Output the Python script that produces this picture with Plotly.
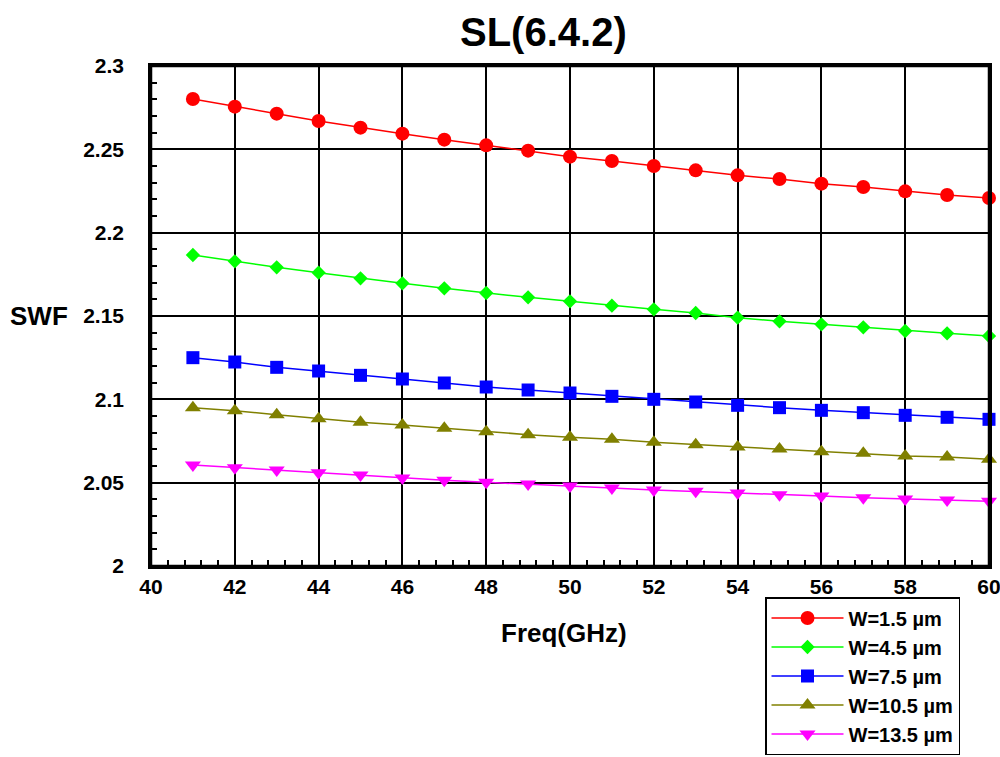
import plotly.graph_objects as go

freq = list(range(41, 61))

w_labels = ["W=1.5 µm", "W=4.5 µm", "W=7.5 µm", "W=10.5 µm", "W=13.5 µm"]

swf_w15 = [2.2802, 2.2756, 2.2714, 2.2670, 2.2630, 2.2594, 2.2558, 2.2524, 2.2492, 2.2456,
           2.2430, 2.2400, 2.2374, 2.2344, 2.2322, 2.2294, 2.2274, 2.2248, 2.2226, 2.2208]
swf_w45 = [2.1866, 2.1828, 2.1792, 2.1760, 2.1726, 2.1696, 2.1666, 2.1638, 2.1612, 2.1588,
           2.1562, 2.1540, 2.1518, 2.1490, 2.1468, 2.1450, 2.1432, 2.1410, 2.1396, 2.1380]
swf_w75 = [2.1250, 2.1224, 2.1192, 2.1170, 2.1144, 2.1122, 2.1098, 2.1074, 2.1056, 2.1038,
           2.1018, 2.1000, 2.0984, 2.0964, 2.0950, 2.0934, 2.0920, 2.0904, 2.0892, 2.0880]
swf_w105 = [2.0950, 2.0932, 2.0908, 2.0884, 2.0862, 2.0846, 2.0826, 2.0806, 2.0788, 2.0772,
            2.0760, 2.0742, 2.0728, 2.0714, 2.0702, 2.0686, 2.0676, 2.0660, 2.0654, 2.0640]
swf_w135 = [2.0606, 2.0590, 2.0576, 2.0560, 2.0546, 2.0528, 2.0514, 2.0502, 2.0492, 2.0480,
            2.0468, 2.0456, 2.0448, 2.0438, 2.0428, 2.0420, 2.0410, 2.0402, 2.0396, 2.0388]

x_ticks = [40, 42, 44, 46, 48, 50, 52, 54, 56, 58, 60]
y_ticks = [2.0, 2.05, 2.1, 2.15, 2.2, 2.25, 2.3]
y_tick_text = ["2", "2.05", "2.1", "2.15", "2.2", "2.25", "2.3"]

series = [swf_w15, swf_w45, swf_w75, swf_w105, swf_w135]
colors = ["#FF0000", "#00FF00", "#0000FF", "#808000", "#FF00FF"]
symbols = ["circle", "diamond", "square", "triangle-up", "triangle-down"]
sizes = [14, 11, 13, 14, 14]

FONT = "Liberation Sans, Arial, sans-serif"

fig = go.Figure()
for name, ys, c, s, sz in zip(w_labels, series, colors, symbols, sizes):
    fig.add_trace(go.Scatter(
        x=freq, y=ys, name=name, mode="lines+markers",
        line=dict(color=c, width=1.5),
        marker=dict(symbol=s, size=sz, color=c, line=dict(width=0)),
        cliponaxis=False,
    ))

fig.update_layout(
    width=1000, height=757,
    margin=dict(l=151, r=11, t=66, b=191, autoexpand=False),
    paper_bgcolor="white", plot_bgcolor="white",
    font=dict(family=FONT, color="black"),
    showlegend=True,
    legend=dict(
        x=(765 - 151) / 838, y=(566 - 597) / 500, xanchor="left", yanchor="top",
        bordercolor="black", borderwidth=1.5, bgcolor="white",
        font=dict(family=FONT, size=20, weight="bold"),
        itemwidth=72,
    ),
    shapes=[
        dict(type="rect", xref="paper", yref="paper", x0=0, x1=1, y0=0, y1=1,
             line=dict(color="black", width=2.5), fillcolor="rgba(0,0,0,0)", layer="above"),
    ],
    annotations=[
        dict(text="SL(6.4.2)", xref="paper", yref="paper",
             x=(543 - 151) / 838, y=(566 - 32) / 500, xanchor="center", yanchor="middle",
             showarrow=False, font=dict(family=FONT, size=40, weight="bold")),
        dict(text="SWF", xref="paper", yref="paper",
             x=(39 - 151) / 838, y=(566 - 316) / 500, xanchor="center", yanchor="middle",
             showarrow=False, font=dict(family=FONT, size=26, weight="bold")),
        dict(text="Freq(GHz)", xref="paper", yref="paper",
             x=(564 - 151) / 838, y=(566 - 633) / 500, xanchor="center", yanchor="middle",
             showarrow=False, font=dict(family=FONT, size=26, weight="bold")),
    ],
)

fig.update_xaxes(
    range=[40, 60], tickvals=x_ticks, ticktext=[str(v) for v in x_ticks],
    showgrid=True, gridcolor="black", gridwidth=1.5,
    showline=True, linecolor="black", linewidth=2.5, mirror=True,
    ticks="inside", ticklen=6, tickcolor="black", tickwidth=1.5,
    tickfont=dict(family=FONT, size=21, weight="bold"),
    ticklabeloverflow="allow",
    minor=dict(dtick=0.4, tick0=40, ticks="inside", ticklen=6, tickcolor="black", tickwidth=1.5, showgrid=False),
    zeroline=False, fixedrange=True, automargin=False,
)
fig.update_yaxes(
    range=[2.0, 2.3], tickvals=y_ticks, ticktext=y_tick_text,
    showgrid=True, gridcolor="black", gridwidth=1.5,
    showline=True, linecolor="black", linewidth=2.5, mirror=True,
    ticks="inside", ticklen=6, tickcolor="black", tickwidth=1.5,
    ticklabelstandoff=20, ticklabeloverflow="allow",
    tickfont=dict(family=FONT, size=21, weight="bold"),
    minor=dict(dtick=0.01, tick0=2.0, ticks="inside", ticklen=6, tickcolor="black", tickwidth=1.5, showgrid=False),
    zeroline=False, fixedrange=True, automargin=False,
)

fig.write_html(
    "out.html",
    config={"displayModeBar": False},
    post_script="document.body.style.margin='0';document.body.style.overflow='hidden';",
)
